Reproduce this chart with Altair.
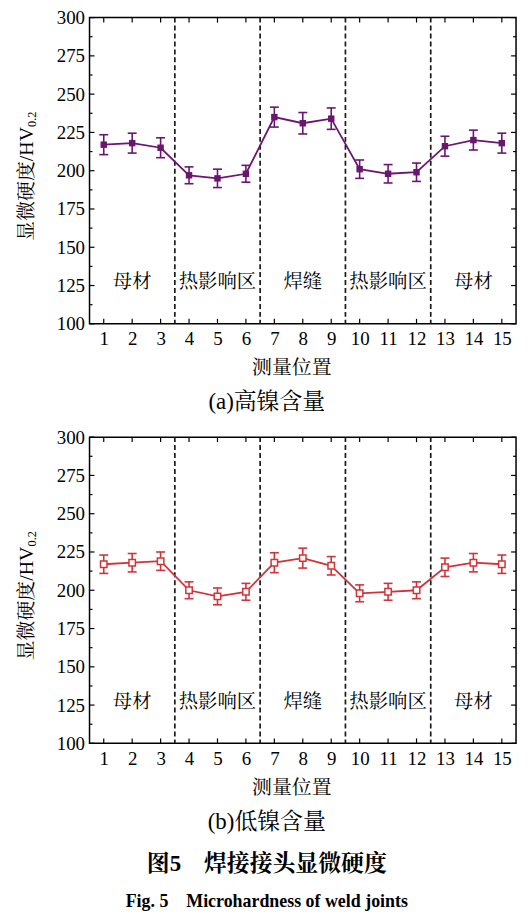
import altair as alt
import pandas as pd

# ---- data ----
positions = list(range(1, 16))
hv_high = [217, 218, 215, 197, 195, 198, 235, 231, 234, 201, 198, 199, 216, 220, 218]
err_high = [6.5, 6.5, 6.5, 5.5, 6, 5.5, 6.5, 7, 7, 6, 6, 6, 6.5, 6.5, 6.5]
hv_low = [217, 218, 219, 200, 196, 199, 218, 221, 216, 198, 199, 200, 215, 218, 217]
err_low = [6, 6, 6, 5.5, 5.5, 5.5, 6.5, 6.5, 6, 5.5, 5.5, 5.5, 6, 6, 6]
zone_names = ["母材", "热影响区", "焊缝", "热影响区", "母材"]
zone_centers = [2, 5, 8, 11, 14]
zone_bounds = [3.5, 6.5, 9.5, 12.5]
y_major = [100, 125, 150, 175, 200, 225, 250, 275, 300]
y_minor = [112.5, 137.5, 162.5, 187.5, 212.5, 237.5, 262.5, 287.5]
y_title_main = "显微硬度/HV"
y_title_sub = "0.2"
x_title = "测量位置"
panel_titles = ["(a)高镍含量", "(b)低镍含量"]
fig_title = "图5　焊接接头显微硬度"
fig_subtitle = "Fig. 5　Microhardness of weld joints"

SERIF = "Liberation Serif, Times New Roman, Noto Serif CJK SC, Noto Sans CJK SC"
W, H = 429, 308
ZONE_PX = H * (300 - 127) / 200

xs = alt.Scale(domain=[0.5, 15.5], nice=False)
ys = alt.Scale(domain=[100, 300], nice=False, zero=False)

x_axis = alt.Axis(values=positions, ticks=False, domain=False, grid=False,
                  labelFont=SERIF, labelFontSize=19, labelColor="black",
                  labelPadding=6, labelFlush=False,
                  title=x_title, titleFont=SERIF, titleFontSize=20,
                  titleFontWeight="normal", titleColor="black",
                  titlePadding=9, titleX=203)
y_axis = alt.Axis(values=y_major, ticks=False, domain=False, grid=False,
                  labelFont=SERIF, labelFontSize=19, labelColor="black",
                  labelPadding=5, title=None)


def X(field):
    return alt.X(field, scale=xs, axis=x_axis)


def Y(field):
    return alt.Y(field, scale=ys, axis=y_axis)


def panel(values, errors, color, open_marker, title):
    df = pd.DataFrame({
        "pos": positions,
        "hv": values,
        "lo": [v - e for v, e in zip(values, errors)],
        "hi": [v + e for v, e in zip(values, errors)],
    })
    zones = pd.DataFrame({"c": zone_centers, "name": zone_names})
    bounds = pd.DataFrame({"b": zone_bounds})
    xt = pd.DataFrame({"p": positions})
    ymaj = pd.DataFrame({"t": y_major})
    ymin = pd.DataFrame({"t": y_minor})
    ttl = pd.DataFrame({"a": [y_title_main], "s": [y_title_sub]})

    line = alt.Chart(df).mark_line(color=color, strokeWidth=1.8).encode(
        x=X("pos:Q"), y=Y("hv:Q"))
    ebar = alt.Chart(df).mark_rule(color=color, strokeWidth=1.6).encode(
        x=X("pos:Q"), y=Y("lo:Q"), y2="hi:Q")
    cap_lo = alt.Chart(df).mark_tick(color=color, orient="horizontal", size=9,
                                     thickness=1.6, opacity=1).encode(
        x=X("pos:Q"), y=Y("lo:Q"))
    cap_hi = alt.Chart(df).mark_tick(color=color, orient="horizontal", size=9,
                                     thickness=1.6, opacity=1).encode(
        x=X("pos:Q"), y=Y("hi:Q"))
    if open_marker:
        pts = alt.Chart(df).mark_square(size=42, fill="white", stroke=color,
                                        strokeWidth=1.5, opacity=1)
    else:
        pts = alt.Chart(df).mark_square(size=42, color=color, opacity=1)
    pts = pts.encode(x=X("pos:Q"), y=Y("hv:Q"))
    dashes = alt.Chart(bounds).mark_rule(color="#1a1a1a", strokeWidth=1.7,
                                         strokeDash=[5, 3]).encode(x=X("b:Q"))
    zone_txt = alt.Chart(zones).mark_text(font=SERIF, fontSize=19.5, color="black",
                                          baseline="middle").encode(
        x=X("c:Q"), y=alt.value(ZONE_PX), text="name:N")
    tk = dict(color="black", strokeWidth=1.2)
    tick_bot = alt.Chart(xt).mark_rule(**tk).encode(
        x=X("p:Q"), y=alt.value(H), y2=alt.value(H - 5))
    tick_top = alt.Chart(xt).mark_rule(**tk).encode(
        x=X("p:Q"), y=alt.value(0), y2=alt.value(5))
    tick_l = alt.Chart(ymaj).mark_rule(**tk).encode(
        y=Y("t:Q"), x=alt.value(0), x2=alt.value(5))
    tick_lm = alt.Chart(ymin).mark_rule(**tk).encode(
        y=Y("t:Q"), x=alt.value(0), x2=alt.value(3))
    tick_r = alt.Chart(ymaj).mark_rule(**tk).encode(
        y=Y("t:Q"), x=alt.value(W), x2=alt.value(W - 5))
    tick_rm = alt.Chart(ymin).mark_rule(**tk).encode(
        y=Y("t:Q"), x=alt.value(W), x2=alt.value(W - 3))

    ytitle = alt.Chart(ttl).mark_text(font=SERIF, fontSize=20, color="black",
                                      angle=270, align="right",
                                      baseline="middle").encode(
        x=alt.value(-63), y=alt.value(110), text="a:N")
    ysub = alt.Chart(ttl).mark_text(font=SERIF, fontSize=12.5, color="black",
                                    angle=270, align="left", baseline="middle",
                                    dy=5).encode(
        x=alt.value(-63), y=alt.value(110), text="s:N")

    return alt.layer(
        dashes, zone_txt, tick_bot, tick_top, tick_l, tick_lm, tick_r, tick_rm,
        ebar, cap_lo, cap_hi, line, pts, ytitle, ysub,
    ).properties(
        width=W, height=H,
        title=alt.TitleParams(title, orient="bottom", anchor="middle",
                              frame="bounds", font=SERIF, fontSize=23,
                              fontWeight="normal", color="black", offset=14),
    )


top = panel(hv_high, err_high, "#6A1670", False, panel_titles[0])
bottom = panel(hv_low, err_low, "#D0343A", True, panel_titles[1])

chart = alt.vconcat(top, bottom, spacing=12).properties(
    title=alt.TitleParams(fig_title, subtitle=fig_subtitle, orient="bottom",
                          anchor="middle", frame="bounds", font=SERIF,
                          fontSize=23, fontWeight="bold", color="black",
                          subtitleFont=SERIF, subtitleFontSize=18,
                          subtitleFontWeight="bold", subtitleColor="black",
                          subtitlePadding=17, offset=19),
).configure(
    padding={"left": 8, "right": 5, "top": -3, "bottom": 5},
    background="white",
).configure_view(stroke="black", strokeWidth=1.5)

chart.save("out.html", embed_options={"renderer": "svg", "actions": False})
